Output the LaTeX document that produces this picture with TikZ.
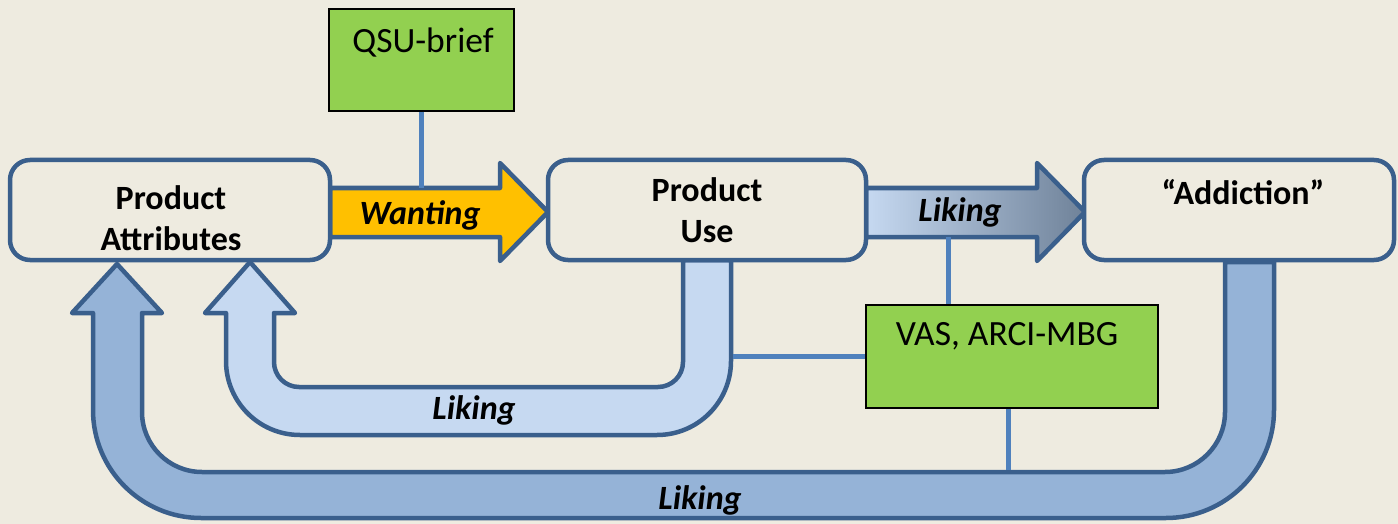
\documentclass[tikz,border=0pt]{standalone}
\usepackage{fontspec}
\setmainfont{Carlito}
\definecolor{bg}{HTML}{EEEBE0}
\definecolor{edge}{HTML}{3A5F8C}
\definecolor{thin}{HTML}{4F81BD}
\definecolor{grn}{HTML}{92D050}
\definecolor{orng}{HTML}{FFC000}
\definecolor{lblue}{HTML}{C6D9F1}
\definecolor{mblue}{HTML}{95B3D7}
\definecolor{gblue}{HTML}{6F8299}
\tikzset{
  mainbox/.style={draw=edge, line width=4.5pt, rounded corners=20pt, fill=bg, inner sep=0pt},
  greenbox/.style={draw=black, line width=2pt, fill=grn, inner sep=0pt},
  bigarrow/.style={draw=edge, line width=4.5pt, line join=round},
  thinline/.style={draw=thin, line width=5pt},
  boldlbl/.style={font=\fontsize{34}{41}\selectfont\bfseries, align=center, inner sep=0pt},
  itlbl/.style={font=\fontsize{34}{41}\selectfont\bfseries\itshape, inner sep=0pt},
  grnlbl/.style={font=\fontsize{35.5}{41}\selectfont, inner sep=0pt}
}
\begin{document}
\begin{tikzpicture}[x=1pt,y=-1pt]
\fill[bg] (0,0) rectangle (1398,524);
\useasboundingbox (0,0) rectangle (1398,524);
% U arrows
\path[bigarrow, fill=mblue] (1225,262) -- (1225,412) .. controls (1225,445.1) and (1198.1,472) .. (1165,472)
  -- (202,472) .. controls (168.9,472) and (142,445.1) .. (142,412) -- (142,313) -- (162,313) -- (117,264)
  -- (72,313) -- (93,313) -- (93,410) .. controls (93,469.6) and (141.4,518) .. (201,518)
  -- (1166,518) .. controls (1225.6,518) and (1274,469.6) .. (1274,410) -- (1274,262) -- cycle;
\path[bigarrow, fill=lblue] (683,260) -- (683,362) .. controls (683,375.8) and (671.8,387) .. (658,387)
  -- (299,387) .. controls (285.2,387) and (274,375.8) .. (274,362) -- (274,313) -- (295,313) -- (250,262)
  -- (205,313) -- (226,313) -- (226,361) .. controls (226,401.9) and (259.1,435) .. (300,435)
  -- (657,435) .. controls (697.9,435) and (731,401.9) .. (731,361) -- (731,260) -- cycle;
% straight arrows
\path[bigarrow, fill=orng] (330,188) -- (500,188) -- (500,163) -- (548,212) -- (500,261) -- (500,237) -- (330,237) -- cycle;
\path[bigarrow, left color=lblue, right color=gblue] (866,188) -- (1037,188) -- (1037,163) -- (1085,212) -- (1037,261) -- (1037,237) -- (866,237) -- cycle;
% boxes
\node[mainbox, minimum width=320pt, minimum height=100pt] (pa) at (170,210) {};
\node[mainbox, minimum width=318pt, minimum height=100pt] (pu) at (707,210) {};
\node[mainbox, minimum width=310pt, minimum height=100pt] (ad) at (1239,210) {};
\node[greenbox, minimum width=185pt, minimum height=102pt] (qsu) at (421.5,60) {};
\node[greenbox, minimum width=292pt, minimum height=103pt] (vas) at (1012,356.5) {};
% connector end points
\coordinate (wtop) at (421,188);
\coordinate (ltop) at (948,237);
\coordinate (uright) at (733,356);
\coordinate (obot) at (1008,470);
\draw[thinline] (qsu.south -| wtop) -- (wtop);
\draw[thinline] (ltop) -- (vas.north -| ltop);
\draw[thinline] (uright) -- (vas.west |- uright);
\draw[thinline] (vas.south -| obot) -- (obot);
% labels
\node[boldlbl] (tpa) at (171,218) {Product\\Attributes};
\node[boldlbl] (tpu) at (707,210) {Product\\Use};
\node[boldlbl] (tad) at (1243,192) {“Addiction”};
\node[grnlbl] (tqsu) at (423,43) {QSU-brief};
\node[grnlbl] (tvas) at (1007,336) {VAS, ARCI-MBG};
\node[itlbl] (tw) at (420,215) {Wanting};
\node[itlbl] (tl1) at (960,212) {Liking};
\node[itlbl] (tl2) at (474,410) {Liking};
\node[itlbl] (tl3) at (700,500) {Liking};
\end{tikzpicture}
\end{document}
